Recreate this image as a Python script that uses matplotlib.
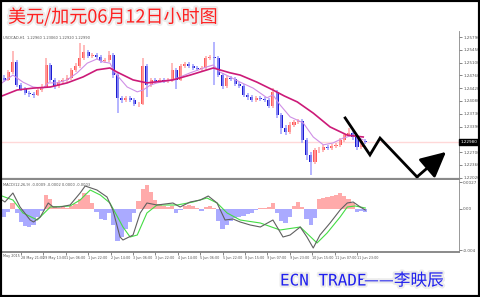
import numpy as np
import matplotlib
matplotlib.use("Agg")
import matplotlib.pyplot as plt
import matplotlib.patheffects as pe
from matplotlib.patches import Rectangle
from matplotlib.transforms import blended_transform_factory

# USD/CAD, 3-hour bars, 28 May - 11 Jun 2015
first_open = 1.2470
closes = [1.2464, 1.2485, 1.2512, 1.2450, 1.2440, 1.2429, 1.2426, 1.2424, 1.2437, 1.2445,
          1.2504, 1.2464, 1.2448, 1.2458, 1.2464, 1.2469, 1.2491, 1.2501, 1.2523, 1.2539,
          1.2528, 1.2531, 1.2525, 1.2515, 1.2517, 1.2531, 1.2477, 1.2416, 1.2410, 1.2416,
          1.2410, 1.2399, 1.2399, 1.2501, 1.2450, 1.2464, 1.2461, 1.2464, 1.2461, 1.2464,
          1.2491, 1.2464, 1.2501, 1.2507, 1.2501, 1.2496, 1.2493, 1.2496, 1.2523, 1.2525,
          1.2523, 1.2477, 1.2448, 1.2469, 1.2466, 1.2453, 1.2448, 1.2424, 1.2418, 1.2410,
          1.2416, 1.2413, 1.2410, 1.2394, 1.2432, 1.2370, 1.2335, 1.2324, 1.2343, 1.2351,
          1.2354, 1.2303, 1.2263, 1.2244, 1.2276, 1.2276, 1.2284, 1.2282, 1.2287, 1.2290,
          1.2303, 1.2316, 1.2322, 1.2311, 1.2284, 1.2300, 1.2298]
highs = [1.2476, 1.2490, 1.2541, 1.2518, 1.2455, 1.2445, 1.2435, 1.2432, 1.2442, 1.2452,
         1.2523, 1.2509, 1.2468, 1.2463, 1.2470, 1.2476, 1.2497, 1.2508, 1.2563, 1.2558,
         1.2545, 1.2537, 1.2536, 1.2530, 1.2523, 1.2541, 1.2535, 1.2482, 1.2422, 1.2421,
         1.2420, 1.2415, 1.2405, 1.2523, 1.2506, 1.2470, 1.2469, 1.2469, 1.2468, 1.2470,
         1.2509, 1.2496, 1.2507, 1.2513, 1.2512, 1.2506, 1.2501, 1.2502, 1.2529, 1.2531,
         1.2566, 1.2528, 1.2482, 1.2475, 1.2474, 1.2471, 1.2459, 1.2453, 1.2430, 1.2424,
         1.2422, 1.2421, 1.2419, 1.2415, 1.2442, 1.2437, 1.2375, 1.2342, 1.2350, 1.2357,
         1.2360, 1.2359, 1.2308, 1.2270, 1.2282, 1.2283, 1.2290, 1.2289, 1.2293, 1.2296,
         1.2309, 1.2322, 1.2335, 1.2327, 1.2316, 1.2306, 1.2305]
lows = [1.2458, 1.2460, 1.2480, 1.2444, 1.2434, 1.2423, 1.2419, 1.2416, 1.2420, 1.2432,
        1.2441, 1.2458, 1.2440, 1.2443, 1.2452, 1.2459, 1.2465, 1.2486, 1.2497, 1.2518,
        1.2522, 1.2523, 1.2519, 1.2509, 1.2510, 1.2512, 1.2470, 1.2375, 1.2403, 1.2405,
        1.2404, 1.2393, 1.2392, 1.2396, 1.2418, 1.2445, 1.2455, 1.2456, 1.2455, 1.2456,
        1.2459, 1.2440, 1.2460, 1.2496, 1.2495, 1.2490, 1.2487, 1.2488, 1.2491, 1.2517,
        1.2450, 1.2471, 1.2440, 1.2443, 1.2460, 1.2447, 1.2442, 1.2418, 1.2411, 1.2404,
        1.2405, 1.2407, 1.2404, 1.2388, 1.2390, 1.2362, 1.2320, 1.2316, 1.2318, 1.2337,
        1.2345, 1.2296, 1.2250, 1.2209, 1.2238, 1.2268, 1.2270, 1.2276, 1.2277, 1.2282,
        1.2285, 1.2298, 1.2310, 1.2304, 1.2277, 1.2279, 1.2292]

# moving averages (bar index, price)
ma_slow_x = [-0.5, 3.1, 6.9, 11.0, 15.0, 18.8, 22.1, 25.2, 26.9, 30.7, 34.0, 40.2, 44.3,
             49.8, 53.8, 56.2, 60.2, 64.0, 66.7, 69.8, 73.6, 77.6, 81.7, 85.5]
ma_slow = [1.2421, 1.2437, 1.2442, 1.2445, 1.2456, 1.2472, 1.2491, 1.2496, 1.2485, 1.2464,
           1.2456, 1.2464, 1.2477, 1.2496, 1.2483, 1.2477, 1.2458, 1.2437, 1.2421, 1.2405,
           1.2375, 1.2338, 1.2316, 1.2311]
ma_fast_x = [-0.5, 2.1, 4.5, 6.9, 9.3, 10.5, 12.6, 15.0, 17.4, 19.8, 22.1, 23.6, 25.2, 26.4,
             29.3, 31.7, 33.1, 34.8, 36.4, 40.2, 44.3, 48.3, 49.8, 51.4, 53.8, 56.2, 59.3,
             62.6, 64.0, 65.7, 68.1, 71.2, 73.6, 76.0, 78.3, 80.7, 83.1, 85.5]
ma_fast = [1.2456, 1.2477, 1.2458, 1.2445, 1.2442, 1.2456, 1.2456, 1.2464, 1.2483, 1.2509,
           1.2520, 1.2512, 1.2509, 1.2483, 1.2445, 1.2432, 1.2437, 1.2450, 1.2456, 1.2464,
           1.2483, 1.2499, 1.2504, 1.2485, 1.2472, 1.2458, 1.2442, 1.2416, 1.2424, 1.2397,
           1.2365, 1.2349, 1.2311, 1.2290, 1.2295, 1.2308, 1.2316, 1.2303]

# MACD(12,26,9)
macd_hist = [-0.0008, -0.0003, 0.0006, -0.0004, -0.0013, -0.0017, -0.0018, -0.0016, -0.0008, -0.0002,
             0.0014, 0.0010, 0.0003, 0.0001, 0.0002, 0.0001, 0.0003, 0.0005, 0.0010, 0.0016,
             0.0014, 0.0006, -0.0003, -0.0010, -0.0011, -0.0004, -0.0016, -0.0032, -0.0028, -0.0020,
             -0.0013, -0.0004, 0.0008, 0.0020, 0.0024, 0.0017, 0.0009, 0.0005, 0.0003, 0.0002,
             0.0003, -0.0004, -0.0001, 0.0003, 0.0004, 0.0003, 0.0001, -0.0002, 0.0002, 0.0003,
             0.0001, -0.0012, -0.0020, -0.0016, -0.0012, -0.0009, -0.0008, -0.0007, -0.0005, -0.0004,
             -0.0001, 0.0001, 0.0001, 0.0002, 0.0006, -0.0004, -0.0012, -0.0014, -0.0008, 0.0003,
             0.0007, 0.0002, -0.0010, -0.0016, -0.0009, 0.0010, 0.0011, 0.0012, 0.0013, 0.0014,
             0.0016, 0.0013, 0.0010, 0.0006, -0.0003, -0.0002, -0.0003]
macd_x = [-0.5, 0.2, 2.1, 3.8, 6.2, 7.0, 8.6, 10.5, 11.7, 13.3, 15.7, 18.1, 19.3, 22.1, 24.5,
          25.9, 27.6, 28.3, 30.7, 32.4, 34.0, 36.4, 40.2, 41.9, 44.3, 46.7, 48.6, 50.7, 52.6,
          54.5, 56.2, 58.6, 61.0, 64.0, 66.4, 68.1, 70.5, 72.1, 73.6, 75.2, 77.6, 80.0, 81.7,
          83.1, 84.8, 86.0]
macd_line = [0.0009, 0.0007, 0.0016, 0.0002, -0.0011, -0.0013, -0.0008, 0.0006, 0.0002, 0.0002,
             0.0004, 0.0016, 0.0023, 0.0019, 0.0012, -0.0001, -0.0028, -0.0031, -0.0026, -0.0004,
             0.0006, 0.0004, 0.0006, 0.0002, 0.0007, 0.0009, 0.0013, 0.0006, -0.0011, -0.0010,
             -0.0013, -0.0016, -0.0018, -0.0011, -0.0028, -0.0026, -0.0018, -0.0028, -0.0039, -0.0026,
             -0.0014, -0.0001, 0.0006, 0.0007, 0.0002, -0.0001]
signal_x = [-0.5, 2.1, 4.5, 7.9, 11.0, 15.7, 18.1, 20.5, 22.9, 25.2, 28.3, 30.0, 31.7, 34.0,
            36.4, 41.2, 45.0, 48.3, 50.7, 53.1, 56.2, 61.0, 65.7, 70.5, 74.5, 76.9, 80.0, 81.7,
            83.6, 86.0]
signal_line = [0.0013, 0.0009, -0.0004, -0.0011, 0.0002, 0.0003, 0.0009, 0.0019, 0.0014, 0.0006,
               -0.0018, -0.0028, -0.0026, -0.0004, 0.0004, 0.0004, 0.0007, 0.0011, 0.0006, -0.0004,
               -0.0011, -0.0014, -0.0021, -0.0018, -0.0034, -0.0024, -0.0008, 0.0002, 0.0003, 0.0001]

# hand-drawn forecast path (bar index, price)
forecast_x = [81.2, 87.1, 89.5, 98.3, 105.2]
forecast = [1.2362, 1.2263, 1.2308, 1.2204, 1.2271]

price_ticks = [1.2579, 1.2545, 1.2510, 1.2476, 1.2442, 1.2408, 1.2373, 1.2339, 1.2270, 1.2236, 1.2202]
time_labels = ["28 May 21:00", "29 May 13:00", "1 Jun 06:00", "1 Jun 22:00", "2 Jun 14:00",
               "3 Jun 06:00", "3 Jun 22:00", "4 Jun 14:00", "5 Jun 06:00", "5 Jun 22:00",
               "8 Jun 15:00", "9 Jun 07:00", "9 Jun 23:00", "10 Jun 15:00", "11 Jun 07:00",
               "11 Jun 23:00"]

plt.rcParams['font.family'] = ['DejaVu Sans', 'Noto Sans CJK SC']

fig = plt.figure(figsize=(4.8, 2.97), dpi=100)
fig.patch.set_facecolor('white')

W, H = 480.0, 297.0
x0, x1 = 2 / W, 459 / W
ax = fig.add_axes([x0, 1 - 179 / H, x1 - x0, (179 - 31) / H])
axm = fig.add_axes([x0, 1 - 252 / H, x1 - x0, (252 - 180) / H], sharex=ax)

n = len(closes)
idx = np.arange(n)
opens = np.array([first_open] + closes[:-1])
c = np.array(closes)
up = c >= opens

# candles
ax.vlines(idx[up], np.array(lows)[up], np.array(highs)[up], color='#ffa8a8', lw=1.1)
ax.vlines(idx[~up], np.array(lows)[~up], np.array(highs)[~up], color='#a0a0ff', lw=1.1)
bottoms = np.minimum(opens, c)
heights = np.maximum(np.abs(c - opens), 0.0001)
ax.bar(idx[up], heights[up], bottom=bottoms[up], width=0.75, color='#ff5a5a', lw=0)
ax.bar(idx[~up], heights[~up], bottom=bottoms[~up], width=0.75, color='#1c1cd0', lw=0)

ax.plot(ma_fast_x, ma_fast, color='#cf8fe6', lw=0.8)
ax.plot(ma_slow_x, ma_slow, color='#cc1a78', lw=1.2)

ax.axhline(closes[-1], color='#ffd8d8', lw=1.0, zorder=0)

# forecast zig-zag with arrow head
ax.plot(forecast_x[:-1], forecast[:-1], color='black', lw=2.0, solid_joinstyle='miter')
ax.annotate('', xy=(forecast_x[-1], forecast[-1]), xytext=(forecast_x[-2], forecast[-2]),
            arrowprops=dict(arrowstyle='-|>,head_length=1.1,head_width=0.55', lw=2.0,
                            color='black', mutation_scale=14, shrinkA=0, shrinkB=0))

ax.set_xlim(-0.5, 108.3)
ax.set_ylim(1.21984, 1.25951)
ax.yaxis.tick_right()
ax.set_yticks(price_ticks)
ax.set_yticklabels([f"{v:.5f}" for v in price_ticks])
ax.tick_params(axis='y', length=2, width=0.5, labelsize=3, pad=1, colors='#555555')
ax.tick_params(axis='x', bottom=False, labelbottom=False)
for s in ['top', 'left']:
    ax.spines[s].set_visible(False)
ax.spines['right'].set_color('#888888')
ax.spines['right'].set_linewidth(0.6)
ax.spines['bottom'].set_color('#8a8a8a')
ax.spines['bottom'].set_linewidth(1.6)

tr = blended_transform_factory(ax.transAxes, ax.transData)
ax.text(1.003, closes[-1], f"{closes[-1]:.5f}", transform=tr, fontsize=3, color='white',
        va='center', ha='left', bbox=dict(boxstyle='square,pad=0.25', fc='black', ec='black'))
ax.text(0.002, 0.955, "USDCAD,H1  1.22960 1.23060 1.22920 1.22990", transform=ax.transAxes,
        fontsize=2.6, color='#555555', va='center')

# MACD panel
hist = np.array(macd_hist)
axm.bar(idx[hist >= 0], hist[hist >= 0], width=1.0, color='#ffaaaa', lw=0)
axm.bar(idx[hist < 0], hist[hist < 0], width=1.0, color='#aaaaff', lw=0)
axm.plot(signal_x, signal_line, color='#44dd44', lw=0.8)
axm.plot(macd_x, macd_line, color='#606060', lw=0.8)
axm.set_ylim(-0.0043, 0.0029)
axm.yaxis.tick_right()
axm.set_yticks([0.0027, 0.0, -0.0041])
axm.set_yticklabels(["0.0027", "0.00", "-0.004"])
axm.tick_params(axis='y', length=2, width=0.5, labelsize=3, pad=1, colors='#555555')
tick_pos = [(12 + 16 * k) / 3 for k in range(len(time_labels))]
axm.set_xticks(tick_pos)
axm.set_xticklabels(time_labels)
axm.tick_params(axis='x', length=2, width=0.5, labelsize=2.4, pad=1, colors='#555555')
for lab in axm.get_xticklabels():
    lab.set_ha('left')
for s in ['top', 'left']:
    axm.spines[s].set_visible(False)
axm.spines['right'].set_color('#888888')
axm.spines['right'].set_linewidth(0.6)
axm.spines['bottom'].set_color('#8a8a8a')
axm.spines['bottom'].set_linewidth(1.4)
axm.text(0.002, 0.93, "MACD(12,26,9) -0.0009 -0.0002 0.0000 -0.0003", transform=axm.transAxes,
         fontsize=2.6, color='#555555', va='center')
fig.text(3 / W, 1 - 256 / H, "May 2015", fontsize=2.4, color='#555555', va='center')

# title and signature
glow = [pe.withStroke(linewidth=3, foreground='#ececec')]
fig.text(8 / W, 1 - 17 / H, "美元/加元06月12日小时图", family=['Noto Sans CJK SC'],
         fontsize=13, color='#ff2020', va='center', path_effects=glow)
fig.text(280 / W, 1 - 281 / H, "ECN TRADE", family=['DejaVu Sans Mono'],
         fontsize=11.5, color='#2020ee', va='center', path_effects=glow)
fig.text(364 / W, 1 - 281 / H, "——李映辰", family=['Noto Sans CJK SC'],
         fontsize=12, color='#2020ee', va='center', path_effects=glow)

fig.patches.append(Rectangle((0, 0), 1, 1, transform=fig.transFigure, fill=False,
                             lw=3, ec='black'))

fig.savefig('out.png', dpi=100)
